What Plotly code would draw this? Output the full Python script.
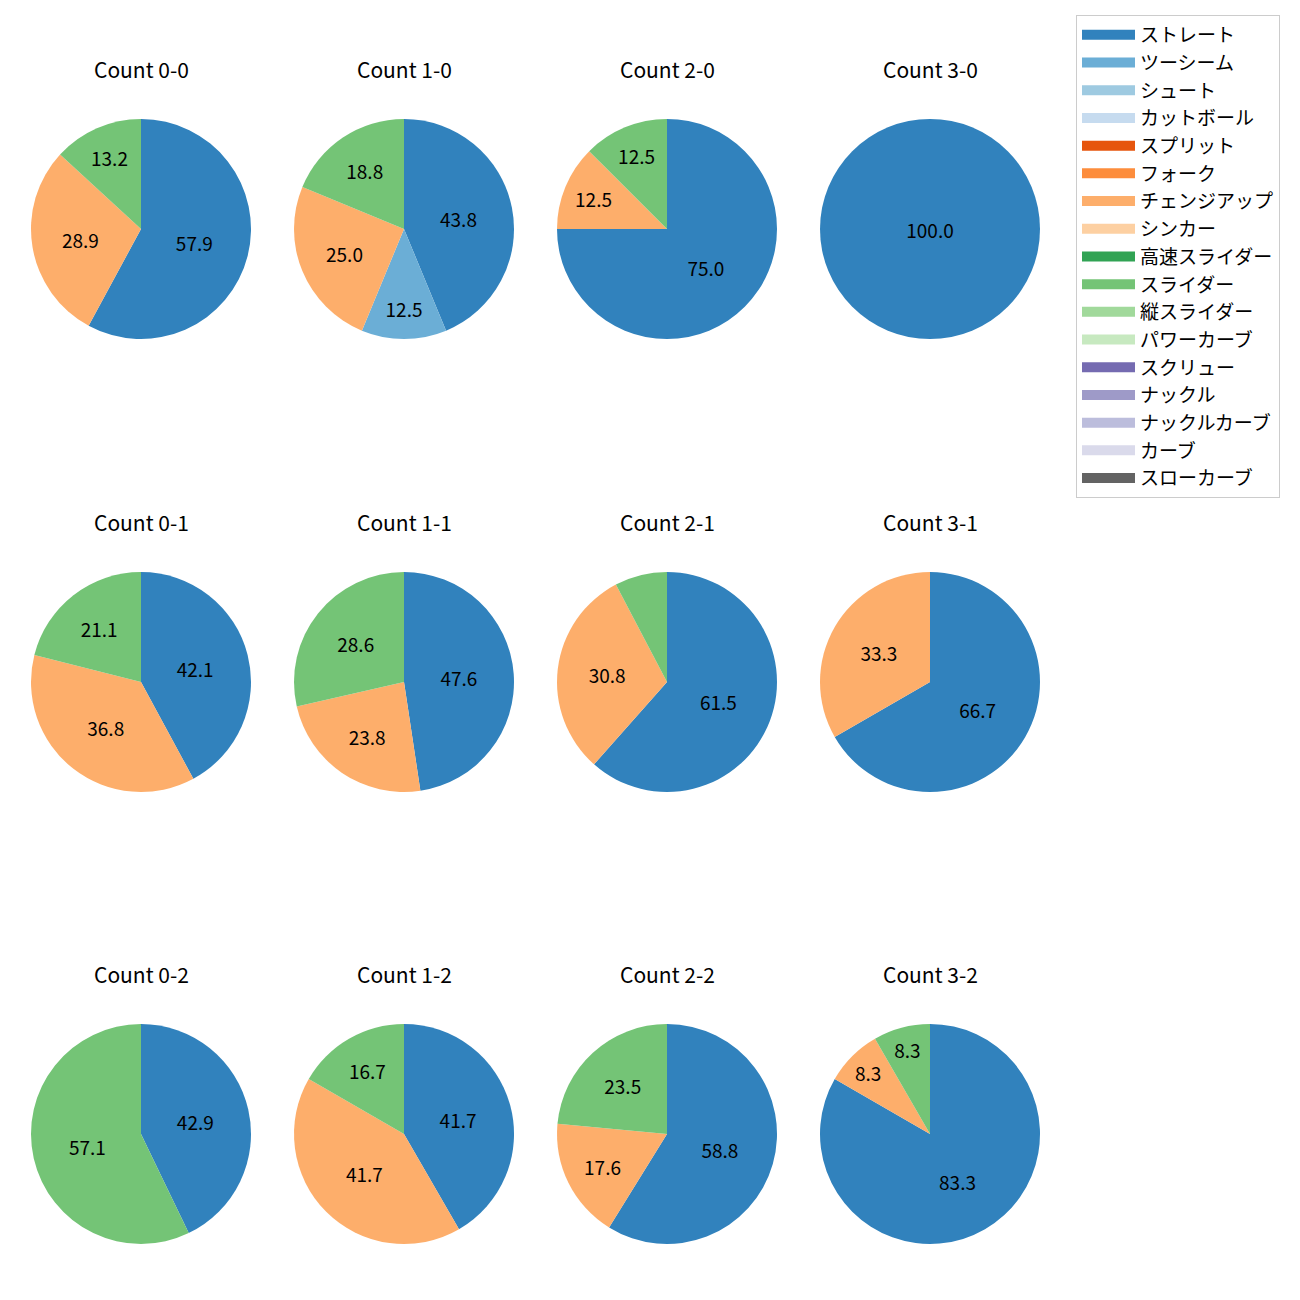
import plotly.graph_objects as go

pitch_types = ["ストレート", "ツーシーム", "シュート", "カットボール", "スプリット", "フォーク",
               "チェンジアップ", "シンカー", "高速スライダー", "スライダー", "縦スライダー",
               "パワーカーブ", "スクリュー", "ナックル", "ナックルカーブ", "カーブ", "スローカーブ"]
colors = ["#3182bd", "#6baed6", "#9ecae1", "#c6dbef", "#e6550d", "#fd8d3c", "#fdae6b", "#fdd0a2",
          "#31a354", "#74c476", "#a1d99b", "#c7e9c0", "#756bb1", "#9e9ac8", "#bcbddc", "#dadaeb",
          "#636363"]
color_map = dict(zip(pitch_types, colors))

counts = ["0-0", "1-0", "2-0", "3-0", "0-1", "1-1", "2-1", "3-1", "0-2", "1-2", "2-2", "3-2"]
pie_labels = {
    "0-0": ["ストレート", "チェンジアップ", "スライダー"],
    "1-0": ["ストレート", "ツーシーム", "チェンジアップ", "スライダー"],
    "2-0": ["ストレート", "チェンジアップ", "スライダー"],
    "3-0": ["ストレート"],
    "0-1": ["ストレート", "チェンジアップ", "スライダー"],
    "1-1": ["ストレート", "チェンジアップ", "スライダー"],
    "2-1": ["ストレート", "チェンジアップ", "スライダー"],
    "3-1": ["ストレート", "チェンジアップ"],
    "0-2": ["ストレート", "スライダー"],
    "1-2": ["ストレート", "チェンジアップ", "スライダー"],
    "2-2": ["ストレート", "チェンジアップ", "スライダー"],
    "3-2": ["ストレート", "チェンジアップ", "スライダー"],
}
pie_values = {
    "0-0": [22, 11, 5],
    "1-0": [7, 2, 4, 3],
    "2-0": [6, 1, 1],
    "3-0": [1],
    "0-1": [8, 7, 4],
    "1-1": [10, 5, 6],
    "2-1": [8, 4, 1],
    "3-1": [2, 1],
    "0-2": [3, 4],
    "1-2": [5, 5, 2],
    "2-2": [10, 3, 4],
    "3-2": [10, 1, 1],
}

W = H = 1300
OFF = 8  # page body margin
col_c = [141 - OFF, 404 - OFF, 667 - OFF, 930 - OFF]
row_c = [229 - OFF, 682 - OFF, 1134 - OFF]
R = 110
title_dy = 160

FONT = "Noto Sans CJK JP"
fig = go.Figure()
annotations = []
for i, c in enumerate(counts):
    r, k = divmod(i, 4)
    cx, cy = col_c[k], row_c[r]
    vals = pie_values[c]
    tot = sum(vals)
    txt = [f"{v / tot * 100:.1f}" if v / tot * 100 >= 8 else "" for v in vals]
    fig.add_trace(go.Pie(
        labels=pie_labels[c], values=vals, text=txt, textinfo="text",
        textposition="inside", insidetextorientation="horizontal",
        marker=dict(colors=[color_map[l] for l in pie_labels[c]]),
        sort=False, direction="clockwise", rotation=0, showlegend=False,
        textfont=dict(family=FONT, size=19, color="black"),
        domain=dict(x=[(cx - R) / W, (cx + R) / W], y=[1 - (cy + R) / H, 1 - (cy - R) / H]),
        hoverinfo="label+percent",
    ))
    annotations.append(dict(text=f"Count {c}", x=cx / W, y=1 - (cy - title_dy) / H,
                            xref="paper", yref="paper", showarrow=False,
                            xanchor="center", yanchor="middle",
                            font=dict(family=FONT, size=21, color="black")))

for i, p in enumerate(pitch_types):
    fig.add_trace(go.Scatter(x=[None], y=[None], mode="lines", name=p,
                             line=dict(color=colors[i], width=13),
                             legendgroup=f"g{i}", showlegend=True))

fig.update_layout(
    width=W, height=H, margin=dict(l=0, r=0, t=0, b=0),
    paper_bgcolor="white", plot_bgcolor="white",
    xaxis=dict(visible=False), yaxis=dict(visible=False),
    annotations=annotations,
    uniformtext=dict(minsize=19, mode="show"),
    legend=dict(x=(1076 - OFF) / W, y=1 - (15 - OFF) / H, xanchor="left", yanchor="top",
                bordercolor="#cccccc", borderwidth=1, bgcolor="white",
                font=dict(family=FONT, size=19, color="black"),
                tracegroupgap=0, itemwidth=53),
    font=dict(family=FONT),
)
fig.write_html("out.html")
